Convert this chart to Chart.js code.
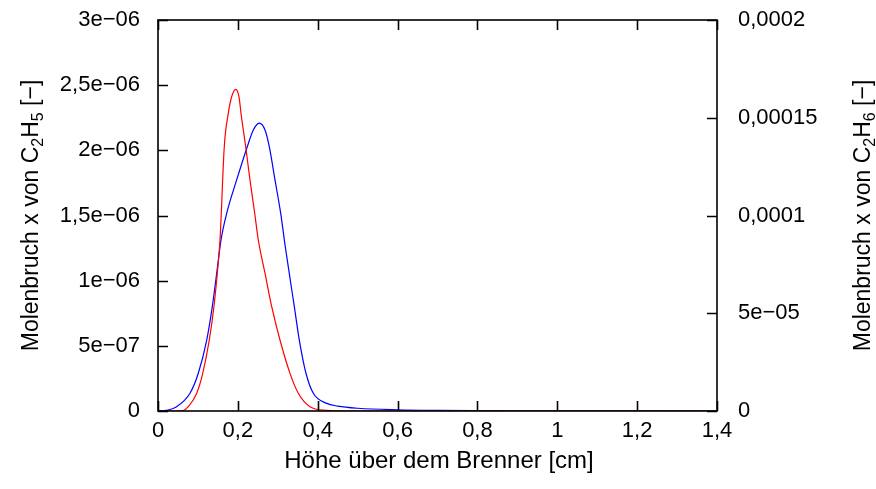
<!DOCTYPE html>
<html>
<head>
<meta charset="utf-8">
<script src="https://cdn.jsdelivr.net/npm/chart.js@4"></script>
<style>
  html, body { margin: 0; padding: 0; background: #fff; overflow: hidden; }
</style>
</head>
<body>
<canvas id="chart" width="876" height="489"></canvas>
<script>
// --- DATA ---
// C2H5 (red, left axis)
const redX = [0, 0.04, 0.063, 0.076, 0.097, 0.112, 0.1285, 0.140, 0.1485, 0.1553, 0.166, 0.176, 0.1845, 0.1946, 0.2029, 0.2079, 0.2196, 0.2304, 0.2422, 0.2512, 0.268, 0.2848, 0.3055, 0.3306, 0.3514, 0.3807, 0.4225, 0.47, 1.4];
const redY = [0, 0, 0.004e-6, 0.033e-6, 0.136e-6, 0.289e-6, 0.545e-6, 0.800e-6, 1.057e-6, 1.312e-6, 2.028e-6, 2.284e-6, 2.411e-6, 2.468e-6, 2.411e-6, 2.284e-6, 2.028e-6, 1.772e-6, 1.517e-6, 1.312e-6, 1.057e-6, 0.800e-6, 0.545e-6, 0.289e-6, 0.136e-6, 0.033e-6, 0.005e-6, 0, 0];

// C2H6 (blue, right axis)
const blueX = [0, 0.02, 0.0468, 0.0801, 0.1009, 0.122, 0.136, 0.147, 0.1578, 0.172, 0.197, 0.2236, 0.2387, 0.2537, 0.268, 0.2787, 0.293, 0.3073, 0.3188, 0.3288, 0.3414, 0.3539, 0.3706, 0.389, 0.4225, 0.45, 0.5, 0.6, 0.7, 0.9, 1.1, 1.4];
const blueY = [0, 0.3e-6, 2.2e-6, 9.05e-6, 19.3e-6, 36.3e-6, 53.4e-6, 70.4e-6, 87.5e-6, 101.1e-6, 118.2e-6, 135.2e-6, 143.7e-6, 147.2e-6, 143.7e-6, 135.2e-6, 118.2e-6, 101.1e-6, 84.0e-6, 70.4e-6, 53.4e-6, 36.3e-6, 19.3e-6, 9.05e-6, 3.9e-6, 2.5e-6, 1.4e-6, 0.6e-6, 0.3e-6, 0.1e-6, 0.04e-6, 0.01e-6];

// tick values + labels
const xTickVals = [0, 0.2, 0.4, 0.6, 0.8, 1, 1.2, 1.4];
const xTickLabels = ['0', '0,2', '0,4', '0,6', '0,8', '1', '1,2', '1,4'];
const yLeftVals = [0, 5e-7, 1e-6, 1.5e-6, 2e-6, 2.5e-6, 3e-6];
const yLeftLabels = ['0', '5e\u221207', '1e\u221206', '1,5e\u221206', '2e\u221206', '2,5e\u221206', '3e\u221206'];
const yRightVals = [0, 5e-5, 1e-4, 1.5e-4, 2e-4];
const yRightLabels = ['0', '5e\u221205', '0,0001', '0,00015', '0,0002'];

const FONT = '"Liberation Sans", Arial, Helvetica, sans-serif';
const TICK_SIZE = 22;
const TITLE_SIZE = 23;
const SUB_SIZE = 16;

function fixTicks(vals) {
    return function(scale) {
        scale.ticks = vals.map(v => ({ value: v }));
    };
}

function noPad(scale) {
    scale.paddingTop = 0;
    scale.paddingBottom = 0;
    scale.paddingLeft = 0;
    scale.paddingRight = 0;
}

// frame + inward ticks (gnuplot style)
const framePlugin = {
    id: 'frame',
    afterDraw(chart) {
        const ctx = chart.ctx;
        const a = chart.chartArea;
        const len = 10;
        ctx.save();
        ctx.strokeStyle = '#000';
        ctx.lineWidth = 1.6;
        ctx.strokeRect(a.left, a.top, a.right - a.left, a.bottom - a.top);
        ctx.beginPath();
        xTickVals.forEach(v => {
            const px = Math.round(chart.scales.x.getPixelForValue(v)) + 0.5;
            ctx.moveTo(px, a.bottom); ctx.lineTo(px, a.bottom - len);
            ctx.moveTo(px, a.top); ctx.lineTo(px, a.top + len);
        });
        yLeftVals.forEach(v => {
            const py = Math.round(chart.scales.y.getPixelForValue(v)) + 0.5;
            ctx.moveTo(a.left, py); ctx.lineTo(a.left + len, py);
        });
        yRightVals.forEach(v => {
            const py = Math.round(chart.scales.y1.getPixelForValue(v)) + 0.5;
            ctx.moveTo(a.right, py); ctx.lineTo(a.right - len, py);
        });
        ctx.stroke();
        ctx.restore();
    }
};

// axis titles with subscripts
function drawParts(ctx, parts, cx, cy, rot, size) {
    ctx.save();
    ctx.translate(cx, cy);
    ctx.rotate(rot);
    ctx.fillStyle = '#000';
    ctx.textBaseline = 'alphabetic';
    ctx.textAlign = 'left';
    let total = 0;
    parts.forEach(p => {
        ctx.font = (p.sub ? SUB_SIZE : size) + 'px ' + FONT;
        p.w = ctx.measureText(p.t).width;
        total += p.w;
    });
    let x = -total / 2;
    parts.forEach(p => {
        ctx.font = (p.sub ? SUB_SIZE : size) + 'px ' + FONT;
        ctx.fillText(p.t, x, p.sub ? 5 : 0);
        x += p.w;
    });
    ctx.restore();
}

const titlePlugin = {
    id: 'titles',
    afterDraw(chart) {
        const ctx = chart.ctx;
        const a = chart.chartArea;
        const midY = (a.top + a.bottom) / 2;
        drawParts(ctx, [{ t: 'H\u00f6he \u00fcber dem Brenner [cm]' }], 439, 468, 0, 24);
        drawParts(ctx, [{ t: 'Molenbruch x von C' }, { t: '2', sub: true }, { t: 'H' }, { t: '5', sub: true }, { t: ' [\u2212]' }], 38, midY, -Math.PI / 2, TITLE_SIZE);
        drawParts(ctx, [{ t: 'Molenbruch x von C' }, { t: '2', sub: true }, { t: 'H' }, { t: '6', sub: true }, { t: ' [\u2212]' }], 870, midY, -Math.PI / 2, TITLE_SIZE);
    }
};

new Chart(document.getElementById('chart'), {
    type: 'line',
    data: {
        datasets: [
            {
                label: 'C2H5',
                data: redX.map((x, i) => ({ x: x, y: redY[i] })),
                borderColor: '#ff0000',
                borderWidth: 1.2,
                pointRadius: 0,
                cubicInterpolationMode: 'monotone',
                yAxisID: 'y'
            },
            {
                label: 'C2H6',
                data: blueX.map((x, i) => ({ x: x, y: blueY[i] })),
                borderColor: '#0000ff',
                borderWidth: 1.2,
                pointRadius: 0,
                cubicInterpolationMode: 'monotone',
                yAxisID: 'y1'
            }
        ]
    },
    options: {
        responsive: false,
        animation: false,
        devicePixelRatio: 1,
        layout: { padding: { top: 20, left: 0, right: 0, bottom: 0 } },
        plugins: { legend: { display: false }, tooltip: { enabled: false } },
        scales: {
            x: {
                type: 'linear',
                min: 0, max: 1.4,
                afterBuildTicks: fixTicks(xTickVals),
                afterFit: s => { s.height = 78; noPad(s); },
                grid: { display: false, drawTicks: false },
                border: { display: false },
                ticks: {
                    padding: 7,
                    color: '#000',
                    font: { family: FONT, size: TICK_SIZE },
                    maxRotation: 0,
                    autoSkip: false,
                    callback: (v, i) => xTickLabels[i]
                }
            },
            y: {
                position: 'left',
                min: 0, max: 3e-6,
                afterBuildTicks: fixTicks(yLeftVals),
                afterFit: s => { s.width = 158; noPad(s); },
                grid: { display: false, drawTicks: false },
                border: { display: false },
                ticks: {
                    padding: 18,
                    color: '#000',
                    font: { family: FONT, size: TICK_SIZE },
                    autoSkip: false,
                    callback: (v, i) => yLeftLabels[i]
                }
            },
            y1: {
                position: 'right',
                min: 0, max: 2e-4,
                afterBuildTicks: fixTicks(yRightVals),
                afterFit: s => { s.width = 159; noPad(s); },
                grid: { display: false, drawTicks: false },
                border: { display: false },
                ticks: {
                    padding: 21,
                    color: '#000',
                    font: { family: FONT, size: TICK_SIZE },
                    autoSkip: false,
                    callback: (v, i) => yRightLabels[i]
                }
            }
        }
    },
    plugins: [framePlugin, titlePlugin]
});
</script>
</body>
</html>
